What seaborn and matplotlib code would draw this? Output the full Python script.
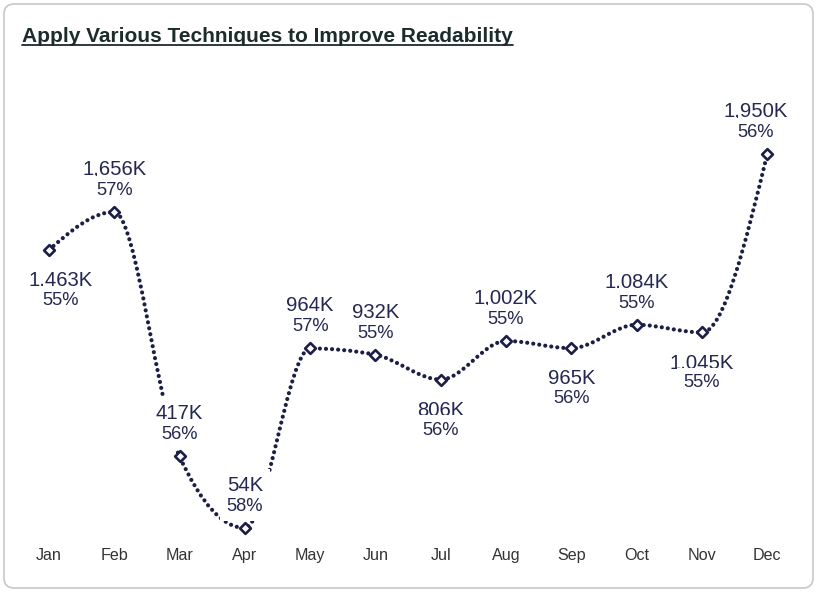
import numpy as np
import pandas as pd
import matplotlib
matplotlib.use("Agg")
import matplotlib.pyplot as plt
import seaborn as sns
from matplotlib.path import Path
from matplotlib.patches import PathPatch, FancyBboxPatch
from matplotlib.lines import Line2D

# data
months = ["Jan", "Feb", "Mar", "Apr", "May", "Jun", "Jul", "Aug", "Sep", "Oct", "Nov", "Dec"]
sales_k = [1463, 1656, 417, 54, 964, 932, 806, 1002, 965, 1084, 1045, 1950]
share_pct = [55, 57, 56, 58, 57, 55, 56, 55, 56, 55, 55, 56]
label_below = [True, False, False, False, False, False, True, False, True, False, True, False]

NAVY = "#1b1f45"
TEXT = "#232850"
TITLE = "#1c2b2b"


def monotone_path(xs, ys):
    """Bezier path with monotone cubic tangents (same idea as d3 curveMonotoneX)."""
    xs = np.asarray(xs, float)
    ys = np.asarray(ys, float)
    n = len(xs)
    h = np.diff(xs)
    s = np.diff(ys) / h
    m = np.zeros(n)
    for i in range(1, n - 1):
        p = (s[i - 1] * h[i] + s[i] * h[i - 1]) / (h[i - 1] + h[i])
        m[i] = (np.sign(s[i - 1]) + np.sign(s[i])) * min(abs(s[i - 1]), abs(s[i]), 0.5 * abs(p))
    m[0] = (3 * s[0] - m[1]) / 2
    m[-1] = (3 * s[-1] - m[-2]) / 2
    verts = [(xs[0], ys[0])]
    codes = [Path.MOVETO]
    for i in range(n - 1):
        dx = h[i] / 3
        verts += [(xs[i] + dx, ys[i] + dx * m[i]),
                  (xs[i + 1] - dx, ys[i + 1] - dx * m[i + 1]),
                  (xs[i + 1], ys[i + 1])]
        codes += [Path.CURVE4] * 3
    return Path(verts, codes)


sns.set_theme(style="white")
plt.rcParams["font.family"] = ["Liberation Sans", "DejaVu Sans"]

df = pd.DataFrame({"month": months, "sales": sales_k, "share": share_pct})

fig = plt.figure(figsize=(8.18, 5.92), dpi=100)
ax = fig.add_axes([0.0199, 0.0902, 0.958, 0.7998])

# smooth dotted line
pos = np.arange(len(months))
patch = PathPatch(monotone_path(pos, df["sales"]), fill=False, edgecolor=NAVY,
                  linewidth=3.0, linestyle=(0, (0.01, 1.45)), capstyle="round", zorder=2)
ax.add_patch(patch)

sns.scatterplot(data=df, x="month", y="sales", marker="D", s=30, color="white",
                edgecolor=NAVY, linewidth=1.9, zorder=5, ax=ax, legend=False)

box = dict(boxstyle="square,pad=0.35", facecolor="white", edgecolor="none")
for i, row in df.iterrows():
    dx = 0
    if i == 0:
        dx = 8.6
    elif i == len(df) - 1:
        dx = -8.6
    if label_below[i]:
        off1, off2 = -25.9, -39.6
    else:
        off1, off2 = 26.6, 12.2
    ax.annotate(f"{row['sales']:,}K", (i, row["sales"]), xytext=(dx, off1),
                textcoords="offset points", ha="center", va="baseline",
                fontsize=14.6, color=TEXT, bbox=box, zorder=3)
    ax.annotate(f"{row['share']}%", (i, row["sales"]), xytext=(dx, off2),
                textcoords="offset points", ha="center", va="baseline",
                fontsize=13.2, color=TEXT, bbox=box, zorder=3)

ax.set_xlim(-0.5, len(months) - 0.5)
ax.set_ylim(0, 2400)
ax.set_xlabel("")
ax.set_ylabel("")
ax.set_yticks([])
ax.tick_params(axis="x", length=0, pad=7, labelsize=11.6, labelcolor="#333333")
sns.despine(ax=ax, left=True, bottom=True)

# rounded card border
fig.patches.append(FancyBboxPatch((4, 4), 809, 584, boxstyle="round,pad=0,rounding_size=10",
                                  transform=None, facecolor="none", edgecolor="#c8c8c8",
                                  linewidth=1.2, zorder=0))

# underlined title
title = fig.text(22 / 818, 1 - 42 / 592, "Apply Various Techniques to Improve Readability",
                 fontsize=15.0, fontweight="bold", color=TITLE, ha="left", va="baseline")
fig.canvas.draw()
bb = title.get_window_extent()
y_line = 592 - 44.5
fig.lines.append(Line2D([bb.x0, bb.x1], [y_line, y_line], transform=None,
                        color=TITLE, linewidth=1.3))

fig.savefig("out.png", dpi=100)
